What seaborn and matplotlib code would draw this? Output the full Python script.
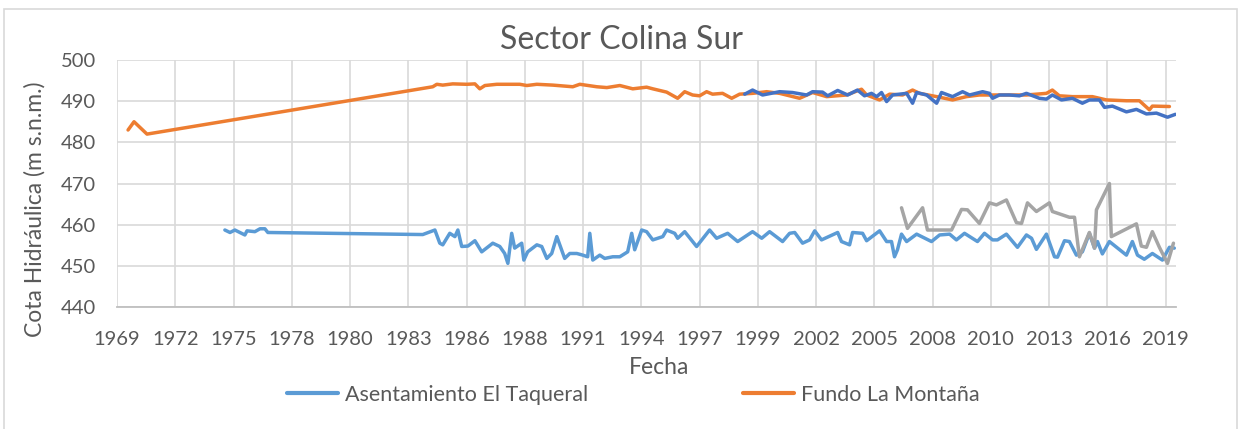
import numpy as np
import pandas as pd
import matplotlib
matplotlib.use("Agg")
import matplotlib.pyplot as plt
from matplotlib.patches import Rectangle
import seaborn as sns

# ---------------- data (decimal year, m s.n.m.) ----------------
taqueral_x = [1974.88, 1975.12, 1975.35, 1975.82, 1975.92, 1976.29, 1976.53, 1976.76, 1976.90,
              1984.18, 1984.75, 1984.98, 1985.12, 1985.45, 1985.69, 1985.83, 1986.01, 1986.30,
              1986.63, 1986.95, 1987.47, 1987.80, 1988.03, 1988.18, 1988.36, 1988.50, 1988.83,
              1988.93, 1989.11, 1989.54, 1989.77, 1990.01, 1990.24, 1990.48, 1990.85, 1991.09,
              1991.42, 1991.70, 1991.93, 1992.03, 1992.17, 1992.50, 1992.73, 1993.11, 1993.44,
              1993.81, 1994.00, 1994.14, 1994.47, 1994.70, 1994.99, 1995.46, 1995.64, 1996.02,
              1996.16, 1996.49, 1997.05, 1997.66, 1997.99, 1998.51, 1998.98, 1999.68, 2000.11,
              2000.48, 2001.09, 2001.42, 2001.66, 2002.03, 2002.36, 2002.60, 2002.92, 2003.68,
              2003.86, 2004.24, 2004.38, 2004.85, 2005.04, 2005.65, 2005.98, 2006.21, 2006.35,
              2006.49, 2006.68, 2006.92, 2007.39, 2008.09, 2008.47, 2008.94, 2009.26, 2009.64,
              2010.25, 2010.58, 2010.96, 2011.19, 2011.61, 2012.13, 2012.55, 2012.79, 2013.02,
              2013.49, 2013.87, 2014.01, 2014.34, 2014.57, 2014.90, 2015.18, 2015.51, 2015.75,
              2015.89, 2016.12, 2016.45, 2017.25, 2017.53, 2017.77, 2018.09, 2018.47, 2018.94,
              2019.27, 2019.50]
taqueral_y = [458.7, 458.1, 458.7, 457.5, 458.5, 458.3, 459.0, 459.0, 458.1,
              457.6, 458.7, 455.5, 455.1, 457.9, 457.1, 458.7, 454.7, 454.8,
              456.1, 453.4, 455.5, 454.7, 453.0, 450.6, 457.9, 454.3, 455.5,
              451.4, 453.4, 455.1, 454.7, 451.8, 453.0, 457.1, 451.8, 453.0,
              453.0, 452.6, 452.2, 457.9, 451.4, 452.6, 451.8, 452.2, 452.2,
              453.4, 457.9, 453.9, 458.7, 458.3, 456.3, 457.1, 458.7, 457.9,
              456.7, 458.3, 454.7, 458.7, 456.7, 457.9, 455.9, 458.3, 456.7,
              458.3, 455.9, 457.9, 458.1, 455.5, 456.3, 458.5, 456.3, 458.1,
              455.9, 455.1, 458.1, 457.9, 456.1, 458.5, 455.9, 455.9, 452.2,
              453.9, 457.7, 455.9, 457.7, 455.9, 457.5, 457.7, 456.3, 457.9,
              455.9, 457.9, 456.3, 456.3, 457.7, 454.5, 457.5, 456.7, 454.0,
              457.7, 452.2, 452.1, 456.1, 455.9, 452.6, 453.4, 457.9, 454.3,
              455.9, 452.9, 455.9, 452.6, 455.9, 452.6, 451.6, 453.0, 451.4,
              454.5, 454.3]

montana_x = [1970.33, 1970.61, 1971.22, 1984.65, 1984.84, 1985.12, 1985.59, 1986.25, 1986.63,
             1986.86, 1987.10, 1987.66, 1988.74, 1989.07, 1989.54, 1990.29, 1991.23, 1991.56,
             1992.36, 1992.83, 1993.44, 1994.05, 1994.70, 1994.99, 1995.64, 1996.16, 1996.49,
             1996.86, 1997.19, 1997.52, 1997.80, 1998.27, 1998.70, 1999.07, 1999.68, 2000.34,
             2000.95, 2001.89, 2002.50, 2003.16, 2004.10, 2004.80, 2005.04, 2005.65, 2006.12,
             2006.73, 2007.20, 2007.53, 2008.33, 2009.08, 2009.73, 2010.34, 2010.96, 2011.61,
             2012.55, 2013.49, 2013.77, 2014.10, 2014.71, 2015.65, 2016.31, 2017.25, 2017.86,
             2018.33, 2018.47, 2019.27]
montana_y = [483.0, 485.0, 482.0, 493.5, 494.1, 493.9, 494.2, 494.1, 494.2,
             493.0, 493.8, 494.1, 494.1, 493.8, 494.1, 493.9, 493.5, 494.1,
             493.5, 493.3, 493.8, 493.0, 493.4, 493.0, 492.2, 490.7, 492.3,
             491.5, 491.3, 492.3, 491.7, 491.9, 490.7, 491.7, 491.9, 492.3,
             491.9, 490.7, 492.1, 491.1, 491.5, 492.9, 491.5, 490.3, 491.7,
             491.5, 492.7, 491.9, 491.1, 490.3, 491.1, 491.5, 491.5, 491.5,
             491.5, 491.9, 492.7, 491.3, 491.1, 491.1, 490.3, 490.1, 490.1,
             487.9, 488.8, 488.7]

serie3_x = [2006.68, 2006.96, 2007.67, 2007.90, 2009.03, 2009.50, 2009.78, 2010.34, 2010.81,
            2011.14, 2011.61, 2012.08, 2012.32, 2012.60, 2013.02, 2013.63, 2013.77, 2014.57,
            2014.81, 2015.04, 2015.51, 2015.75, 2015.84, 2016.45, 2016.54, 2017.72, 2017.95,
            2018.19, 2018.47, 2018.80, 2019.18, 2019.46]
serie3_y = [464.1, 459.1, 464.1, 458.7, 458.7, 463.7, 463.6, 460.3, 465.3,
            464.8, 466.0, 460.5, 460.3, 465.3, 463.2, 465.3, 463.2, 461.8,
            461.8, 452.2, 458.1, 454.3, 463.6, 470.0, 457.1, 460.2, 454.8,
            454.5, 458.3, 454.5, 450.6, 455.5]

serie4_x = [1999.31, 1999.68, 2000.15, 2000.95, 2001.56, 2002.22, 2002.50, 2002.97, 2003.21,
            2003.68, 2004.15, 2004.61, 2004.94, 2005.27, 2005.51, 2005.74, 2005.98, 2006.26,
            2006.92, 2007.20, 2007.39, 2007.86, 2008.33, 2008.56, 2009.08, 2009.55, 2009.88,
            2010.49, 2010.81, 2010.96, 2011.28, 2011.75, 2012.22, 2012.55, 2013.16, 2013.49,
            2013.77, 2014.20, 2014.71, 2015.18, 2015.51, 2015.98, 2016.22, 2016.59, 2017.25,
            2017.72, 2018.19, 2018.66, 2019.18, 2019.55]
serie4_y = [491.7, 492.7, 491.5, 492.3, 492.1, 491.5, 492.3, 492.2, 491.3,
            492.6, 491.5, 492.7, 491.3, 491.9, 491.1, 492.1, 489.9, 491.5,
            491.9, 489.5, 492.1, 491.5, 489.5, 492.1, 491.1, 492.3, 491.5,
            492.3, 491.9, 490.7, 491.5, 491.5, 491.3, 491.9, 490.7, 490.5,
            491.5, 490.3, 490.7, 489.5, 490.3, 490.3, 488.5, 488.8, 487.4,
            488.0, 486.9, 487.1, 486.1, 486.8]

tick_labels = ["1969", "1972", "1975", "1978", "1980", "1983", "1986", "1988", "1991", "1994",
               "1997", "1999", "2002", "2005", "2008", "2010", "2013", "2016", "2019"]
y_ticks = [440, 450, 460, 470, 480, 490, 500]

# ---------------- style ----------------
sns.set_theme(style="whitegrid")
plt.rcParams['font.family'] = ['Lato', 'DejaVu Sans']
txt = "#595959"

fig = plt.figure(figsize=(12.43, 4.29), dpi=100)
ax = fig.add_axes([117/1243, 1-307/429, (1176-117)/1243, (307-60)/429])

c_blue, c_orange, c_gray, c_dblue = "#5B9BD5", "#ED7D31", "#A5A5A5", "#4472C4"
lw = 2.5
sns.lineplot(x=taqueral_x, y=taqueral_y, ax=ax, color=c_blue, lw=lw, sort=False,
             estimator=None, label="Asentamiento El Taqueral", legend=False)
sns.lineplot(x=montana_x, y=montana_y, ax=ax, color=c_orange, lw=lw, sort=False,
             estimator=None, label="Fundo La Montaña", legend=False)
sns.lineplot(x=serie3_x, y=serie3_y, ax=ax, color=c_gray, lw=lw, sort=False,
             estimator=None, legend=False)
sns.lineplot(x=serie4_x, y=serie4_y, ax=ax, color=c_dblue, lw=lw, sort=False,
             estimator=None, legend=False)

x0 = 1969.81
step = 1000 / 365.25
xt = [x0 + k * step for k in range(len(tick_labels))]
ax.set_xlim(x0, 2019.58)
ax.set_xticks(xt)
ax.set_xticklabels(tick_labels)
ax.set_ylim(440, 500)
ax.set_yticks(y_ticks)

ax.grid(True, color="#D9D9D9", lw=1.2)
for s in ["top", "right", "left"]:
    ax.spines[s].set_visible(False)
ax.spines["bottom"].set_color("#BFBFBF")
ax.spines["bottom"].set_linewidth(1.3)
ax.tick_params(axis="x", length=0, pad=17, labelsize=14.5, colors=txt)
ax.tick_params(axis="y", length=0, pad=15, labelsize=14.5, colors=txt)

ax.set_xlabel("")
ax.set_ylabel("")
fig.text(35/1243, 1-209/429, "Cota Hidráulica (m s.n.m.)", rotation=90, ha="center",
         va="center", fontsize=16.5, color=txt)
fig.text(659/1243, 1-368/429, "Fecha", ha="center", va="center", fontsize=16.5, color=txt)
fig.text(621/1243, 1-40/429, "Sector Colina Sur", ha="center", va="center", fontsize=23,
         color=txt)

handles, labels = ax.get_legend_handles_labels()
leg = fig.legend(handles[:2], labels[:2], loc="center", bbox_to_anchor=(633/1243, 1-395/429),
                 ncol=2, frameon=False, fontsize=15.5, handlelength=2.4, handletextpad=0.3,
                 columnspacing=7.2)
for t in leg.get_texts():
    t.set_color(txt)
for h in leg.get_lines():
    h.set_linewidth(3)

fig.patches.append(Rectangle((4/1243, -0.05), (1237-4)/1243, 1.05 - 9/429,
                             transform=fig.transFigure, fill=False, ec="#D9D9D9", lw=1.2))

fig.savefig("out.png", dpi=100, facecolor="white")
